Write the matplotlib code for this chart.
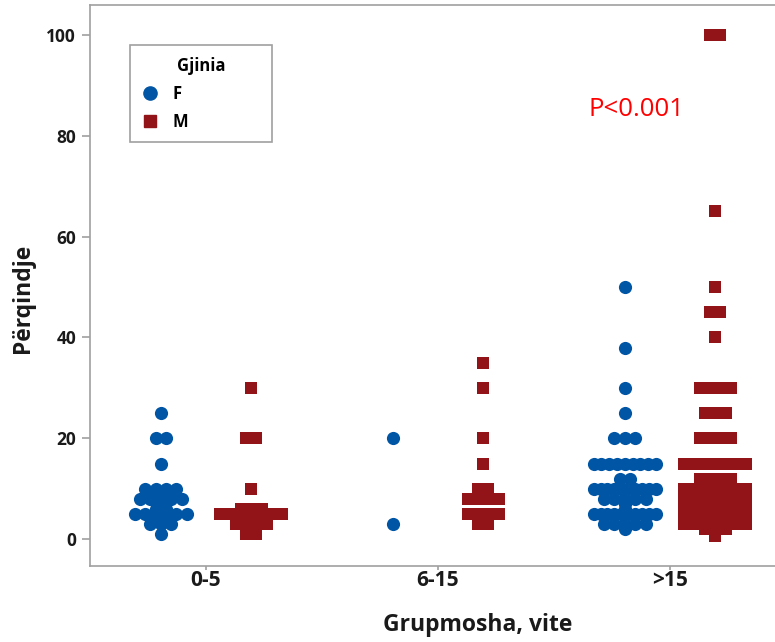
import numpy as np
import matplotlib
matplotlib.use("Agg")
import matplotlib.pyplot as plt
from matplotlib.lines import Line2D

plt.rcParams['font.family'] = ['Open Sans', 'DejaVu Sans']

# ---- data (value: count) ----
groups = ["0-5", "6-15", ">15"]
sexes = ["F", "M"]

f_0_5 = {25: 1, 20: 2, 15: 1, 10: 4, 8: 5, 7: 1, 6: 2, 5: 6, 3: 3, 1: 1}
m_0_5 = {30: 1, 20: 2, 10: 1, 6: 3, 5: 7, 3: 4, 1: 2}
f_6_15 = {20: 1, 3: 1}
m_6_15 = {35: 1, 30: 1, 20: 1, 15: 1, 10: 2, 8: 4, 5: 4, 3: 2}
f_15 = {50: 1, 38: 1, 30: 1, 25: 1, 20: 3, 15: 9, 12: 2, 10: 10, 8: 5,
        7: 1, 6: 1, 5: 10, 3: 5, 2: 1}
m_15 = {100: 2, 65: 1, 50: 1, 45: 2, 40: 1, 30: 4, 25: 3, 20: 4, 15: 12,
        12: 4, 10: 12, 9: 7, 8: 10, 7: 7, 6: 8, 5: 14, 4: 7, 3: 9, 2: 3, 0.7: 1}

data = {
    ("0-5", "F"): f_0_5, ("0-5", "M"): m_0_5,
    ("6-15", "F"): f_6_15, ("6-15", "M"): m_6_15,
    (">15", "F"): f_15, (">15", "M"): m_15,
}

p_text = "P<0.001"

colors = {"F": "#0055A5", "M": "#921419"}
markers = {"F": "o", "M": "s"}
sex_offset = {"F": -0.195, "M": 0.195}
spacing = 0.0447
maxn = 7

fig = plt.figure(figsize=(7.75, 6.42), dpi=100)
ax = fig.add_axes([90 / 775, 76 / 642, 696 / 775, 561 / 642])

for gi, g in enumerate(groups):
    for s in sexes:
        xs, ys = [], []
        for v, n in data[(g, s)].items():
            if n <= maxn:
                offs = (np.arange(n) - (n - 1) / 2) * spacing
            else:
                offs = np.linspace(-(maxn - 1) / 2 * spacing, (maxn - 1) / 2 * spacing, n)
            xs.extend(gi + sex_offset[s] + offs)
            ys.extend([v] * n)
        ax.scatter(xs, ys, s=90 if s == "F" else 82, marker=markers[s],
                   color=colors[s], linewidths=0, zorder=3)

ax.set_xlim(-0.5, 2.5)
ax.set_ylim(-5.3, 105.9)
ax.set_xticks(range(len(groups)))
ax.set_xticklabels(groups)
ax.set_yticks([0, 20, 40, 60, 80, 100])

for sp in ax.spines.values():
    sp.set_color("#a0a0a0")
    sp.set_linewidth(1.2)
ax.tick_params(axis="both", colors="#a0a0a0", length=6, width=1.2, direction="out",
               labelcolor="#1a1a1a", labelsize=12.5)
ax.tick_params(axis="x", pad=0, length=3, labelsize=15)
ax.tick_params(axis="y", pad=4)
for lbl in ax.get_xticklabels() + ax.get_yticklabels():
    lbl.set_fontweight("bold")

ax.set_xlabel("Grupmosha, vite", fontsize=16.5, fontweight="bold", color="#1a1a1a", labelpad=16)
ax.xaxis.label.set_x((478 - 90) / 696)
ax.set_ylabel("Përqindje", fontsize=16.5, fontweight="bold", color="#1a1a1a", labelpad=8)
ax.yaxis.label.set_y((566 - 298) / 561)

ax.text(1.65, 85.2, p_text, color="#ff0000", fontsize=18.5, ha="left", va="center")

handles = [Line2D([], [], marker=markers[s], color=colors[s], linestyle="none",
                  markersize=9.5 if s == "F" else 9) for s in sexes]
leg = ax.legend(handles, sexes, title="Gjinia", loc="upper left",
                bbox_to_anchor=(40 / 696, (566 - 45) / 561 - 95 / 561, 142 / 696, 95 / 561),
                mode="expand", fancybox=False, framealpha=1, edgecolor="#a0a0a0",
                fontsize=12, title_fontsize=12, alignment="center",
                handlelength=1.0, handletextpad=0.85,
                labelspacing=0.6, borderpad=0.7, borderaxespad=0)
leg.get_title().set_fontweight("bold")
for t in leg.get_texts():
    t.set_fontweight("bold")
leg.get_frame().set_linewidth(1.2)

fig.savefig("out.png", dpi=100)
